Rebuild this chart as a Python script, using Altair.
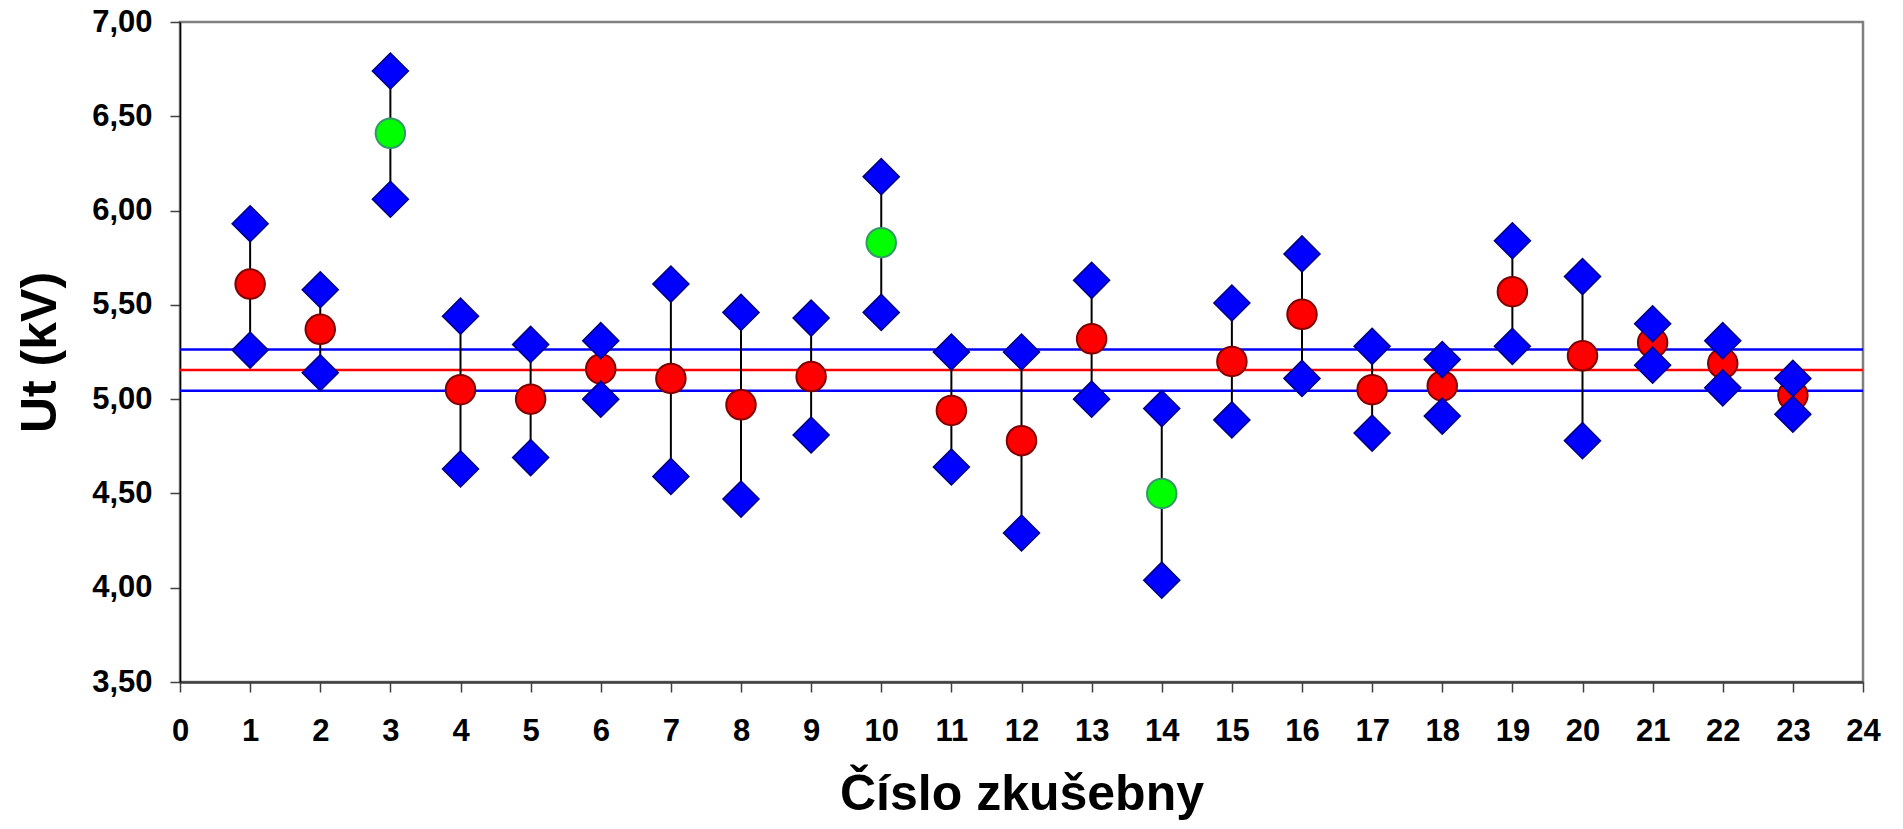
import altair as alt
import pandas as pd

# ---- data ----
stations = list(range(1, 24))
upper = [5.93, 5.58, 6.74, 5.44, 5.29, 5.31, 5.61, 5.46, 5.43, 6.18, 5.25, 5.25,
         5.63, 4.95, 5.51, 5.77, 5.28, 5.21, 5.84, 5.65, 5.40, 5.31, 5.11]
mean = [5.61, 5.37, 6.41, 5.05, 5.00, 5.16, 5.11, 4.97, 5.12, 5.83, 4.94, 4.78,
        5.32, 4.50, 5.20, 5.45, 5.05, 5.07, 5.57, 5.23, 5.30, 5.19, 5.02]
lower = [5.26, 5.14, 6.06, 4.63, 4.69, 5.00, 4.59, 4.47, 4.81, 5.46, 4.64, 4.29,
         5.00, 4.04, 4.89, 5.11, 4.82, 4.91, 5.28, 4.78, 5.18, 5.06, 4.92]
outliers = [3, 10, 14]
ref_levels = [5.263, 5.155, 5.045]
ref_kinds = ["limit", "mean", "limit"]
x_ticks = list(range(0, 25))
y_ticks = [3.5, 4.0, 4.5, 5.0, 5.5, 6.0, 6.5, 7.0]

df = pd.DataFrame({"station": stations, "upper": upper, "mean": mean, "lower": lower})
df["status"] = ["outlier" if s in outliers else "ok" for s in stations]
diam = df.melt(id_vars=["station"], value_vars=["upper", "lower"],
               var_name="bound", value_name="value")
ref = pd.DataFrame({"level": ref_levels, "kind": ref_kinds})

FONT = "Liberation Sans"

xscale = alt.Scale(domain=[0, 24], nice=False, zero=False)
yscale = alt.Scale(domain=[3.5, 7], nice=False, zero=False)

xaxis = alt.Axis(values=x_ticks, title="Číslo zkušebny", grid=False,
                 labelFont=FONT, labelFontSize=31, labelFontWeight="bold", labelColor="black",
                 labelPadding=24, tickSize=10, tickWidth=1.5, tickColor="#404040",
                 domainColor="#404040", domainWidth=2.5,
                 titleFont=FONT, titleFontSize=50, titleFontWeight="bold", titleColor="black",
                 titleY=127, titleBaseline="alphabetic", labelFlush=False)
yaxis = alt.Axis(values=y_ticks, title="Ut (kV)", grid=False,
                 labelExpr="replace(format(datum.value, '.2f'), '.', ',')",
                 labelFont=FONT, labelFontSize=31, labelFontWeight="bold", labelColor="black",
                 labelPadding=18, tickSize=10, tickWidth=1.5, tickColor="#404040",
                 domainColor="black", domainWidth=1.5,
                 titleFont=FONT, titleFontSize=50, titleFontWeight="bold", titleColor="black",
                 titleAngle=-90, titleX=-125, titleY=330, titleAlign="center",
                 titleBaseline="alphabetic", labelFlush=False)

hrules = alt.Chart(ref).mark_rule(strokeWidth=2.5).encode(
    y=alt.Y("level:Q", scale=yscale, axis=yaxis),
    color=alt.Color("kind:N", scale=alt.Scale(domain=["limit", "mean"],
                                              range=["#0000FF", "#FF0000"]), legend=None),
)

vrules = alt.Chart(df).mark_rule(color="black", strokeWidth=2).encode(
    x=alt.X("station:Q", scale=xscale, axis=xaxis),
    y=alt.Y("lower:Q", scale=yscale, axis=yaxis),
    y2="upper:Q",
)

circles = alt.Chart(df).mark_point(shape="circle", filled=True, size=870,
                                   strokeWidth=2, opacity=1).encode(
    x=alt.X("station:Q", scale=xscale, axis=xaxis),
    y=alt.Y("mean:Q", scale=yscale, axis=yaxis),
    fill=alt.Fill("status:N", scale=alt.Scale(domain=["ok", "outlier"],
                                              range=["#FF0000", "#00FF00"]), legend=None),
    stroke=alt.Stroke("status:N", scale=alt.Scale(domain=["ok", "outlier"],
                                                  range=["#800000", "#339966"]), legend=None),
)

diamonds = alt.Chart(diam).mark_point(shape="diamond", filled=True, size=1300,
                                      fill="#0000FF", stroke="#000080",
                                      strokeWidth=1.5, opacity=1).encode(
    x=alt.X("station:Q", scale=xscale, axis=xaxis),
    y=alt.Y("value:Q", scale=yscale, axis=yaxis),
)

chart = alt.layer(hrules, vrules, circles, diamonds).resolve_scale(
    color="independent"
).properties(
    width=1683, height=660,
    autosize=alt.AutoSizeParams(type="none"),
    padding={"left": 172, "top": 14, "right": 30, "bottom": 143},
    background="white",
).configure_view(stroke="#808080", strokeWidth=2.5)

chart.save("out.html", embed_options={"renderer": "svg", "actions": False})
